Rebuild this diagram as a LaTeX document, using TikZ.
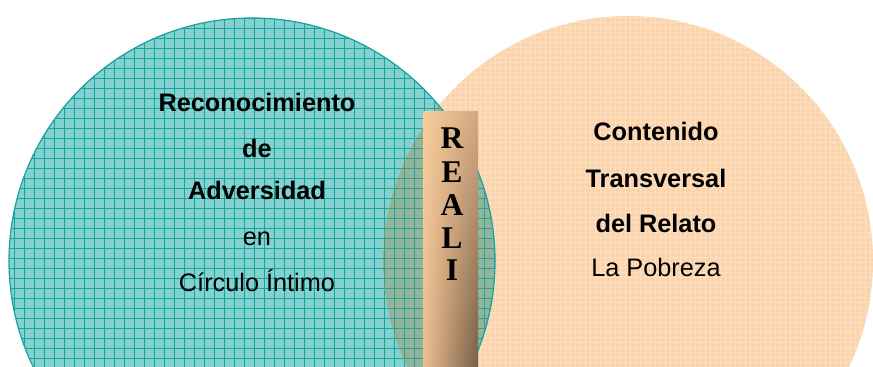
\documentclass[tikz,border=0pt]{standalone}
\usepackage{fontspec}
\setmainfont{Liberation Sans}
\newfontfamily\barfont{Liberation Serif}
\usetikzlibrary{shadings}

\definecolor{tealfill}{RGB}{132,210,208}
\definecolor{tealline}{RGB}{24,162,160}
\definecolor{peachfill}{RGB}{252,211,171}
\definecolor{mixfill}{RGB}{142,182,156}
\definecolor{mixline}{RGB}{58,154,142}
\definecolor{barUL}{RGB}{248,205,155}
\definecolor{barUR}{RGB}{208,168,128}
\definecolor{barLL}{RGB}{238,190,145}
\definecolor{barLR}{RGB}{118,94,70}

\begin{document}
\begin{tikzpicture}[
    circtext/.style={anchor=base,font=\fontsize{14.4}{17}\selectfont},
    bartext/.style={font=\barfont\bfseries\fontsize{18}{20}\selectfont}]

  \clip (0,0) rectangle (17.46,7.34);

  % left circle, teal with grid
  \fill[tealfill] (5.04,2.12) circle (4.86);
  \begin{scope}
    \clip (5.04,2.12) circle (4.86);
    \draw[tealline,line width=.42pt,step=.2,shift={(.08,-.02)}] (-1,-3) grid (11,8);
  \end{scope}

  % right circle, peach
  \fill[peachfill] (12.56,2.12) circle (4.9);
  \begin{scope}
    \clip (12.56,2.12) circle (4.9);
    \draw[white,opacity=.3,line width=.4pt,step=.1] (7,-3) grid (18,8);
  \end{scope}

  % where the two meet
  \begin{scope}
    \clip (5.04,2.12) circle (4.86);
    \fill[mixfill] (12.56,2.12) circle (4.9);
    \clip (12.56,2.12) circle (4.9);
    \draw[mixline,line width=.42pt,step=.2,shift={(.08,-.02)}] (-1,-3) grid (11,8);
  \end{scope}
  \draw[tealline,line width=.7pt] (5.04,2.12) circle (4.86);

  % the bar
  \shade[upper left=barUL,upper right=barUR,lower left=barLL,lower right=barLR]
    (8.46,0) rectangle (9.56,5.1);
  \node[bartext] (r) at (9.04,4.58) {R};
  \node[bartext] (e) at (9.04,3.90) {E};
  \node[bartext] (a) at (9.04,3.24) {A};
  \node[bartext] (l) at (9.04,2.58) {L};
  \node[bartext] (i) at (9.04,1.94) {I};

  % left texts
  \node[circtext] (reco) at (5.14,5.10) {\bfseries Reconocimiento};
  \node[circtext] (de) at (5.14,4.18) {\bfseries de};
  \node[circtext] (adv) at (5.14,3.34) {\bfseries Adversidad};
  \node[circtext] (en) at (5.14,2.42) {en};
  \node[circtext] (circ) at (5.14,1.50) {Círculo Íntimo};

  % right texts
  \node[circtext] (cont) at (13.12,4.52) {\bfseries Contenido};
  \node[circtext] (trans) at (13.12,3.58) {\bfseries Transversal};
  \node[circtext] (rel) at (13.12,2.68) {\bfseries del Relato};
  \node[circtext] (pob) at (13.12,1.80) {La Pobreza};
\end{tikzpicture}
\end{document}
